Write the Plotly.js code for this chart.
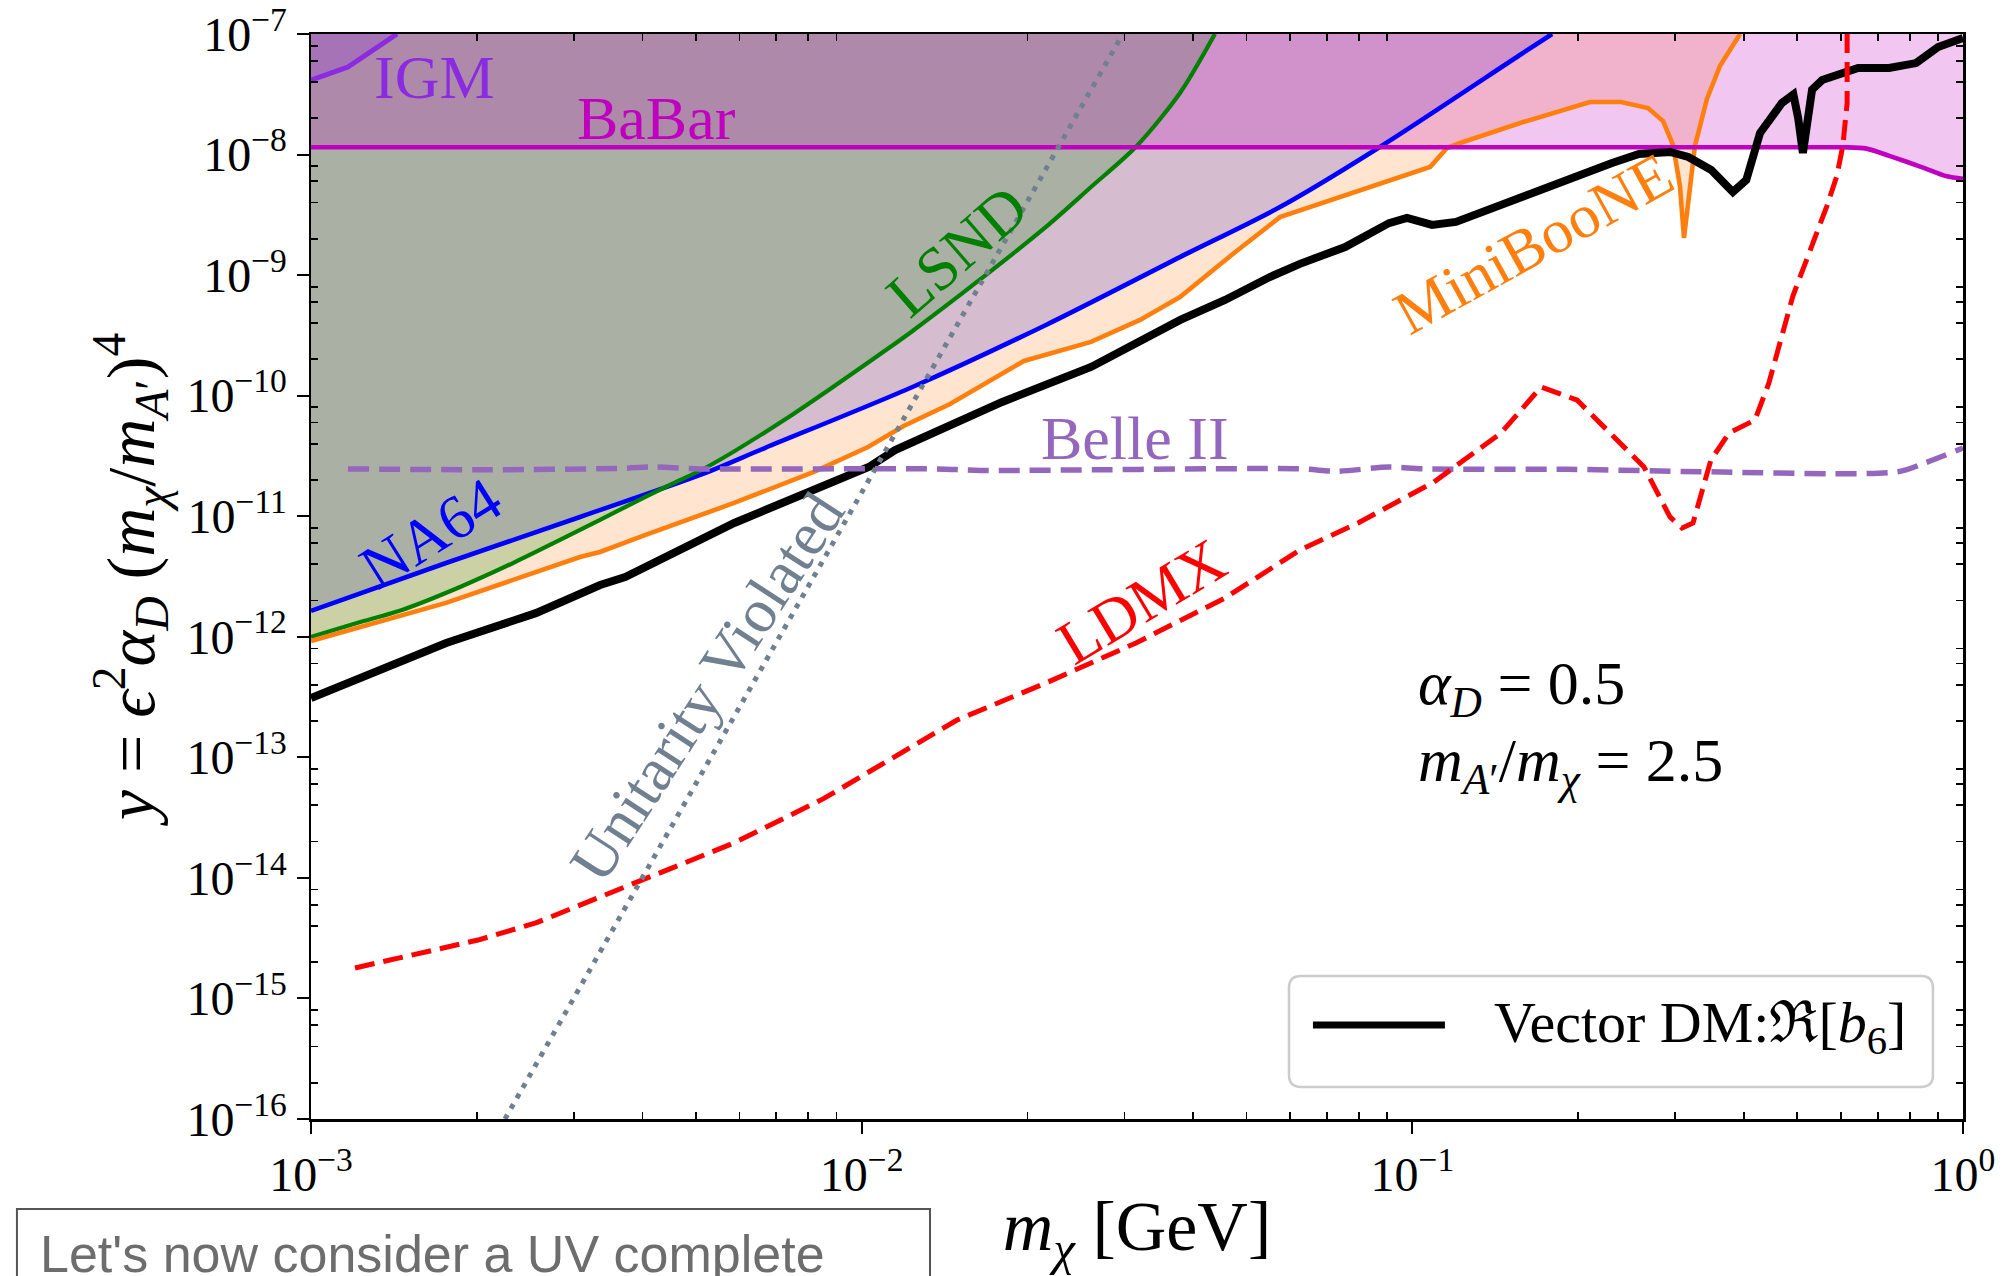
<!DOCTYPE html>
<html>
<head>
<meta charset="utf-8">
<script src="https://cdn.plot.ly/plotly-3.0.1.min.js"></script>
<style>
html,body{margin:0;padding:0;background:#fff;}
#chart{width:2005px;height:1276px;}
</style>
</head>
<body>
<div id="chart"></div>
<script>
// ---------------- data ----------------
const vectorDM_m = [1.00e-3, 1.212e-3, 1.76e-3, 2.56e-3, 3.35e-3, 3.72e-3, 5.09e-3, 5.87e-3, 1.03e-2, 1.15e-2, 1.80e-2, 2.61e-2, 3.79e-2, 4.57e-2, 5.51e-2, 6.25e-2, 7.55e-2, 9.07e-2, 9.78e-2, 0.1086, 0.120, 0.132, 0.159, 0.192, 0.2305, 0.258, 0.294, 0.317, 0.349, 0.382, 0.404, 0.428, 0.469, 0.492, 0.502, 0.512, 0.522, 0.532, 0.555, 0.645, 0.734, 0.822, 0.901, 1.0];
const vectorDM_y = [3.10e-13, 4.39e-13, 8.89e-13, 1.57e-12, 2.69e-12, 3.13e-12, 6.35e-12, 8.79e-12, 2.56e-11, 3.54e-11, 8.87e-11, 1.73e-10, 4.25e-10, 6.22e-10, 9.64e-10, 1.24e-9, 1.71e-9, 2.70e-9, 2.98e-9, 2.61e-9, 2.76e-9, 3.27e-9, 4.45e-9, 6.40e-9, 8.51e-9, 1.01e-8, 1.05e-8, 9.55e-9, 7.45e-9, 4.89e-9, 6.15e-9, 1.51e-8, 2.68e-8, 3.15e-8, 2.0e-8, 1.03e-8, 2.2e-8, 3.45e-8, 4.15e-8, 5.22e-8, 5.22e-8, 5.74e-8, 7.80e-8, 9.27e-8];

const lsnd_m = [1.00e-3, 1.212e-3, 1.463e-3, 1.865e-3, 2.327e-3, 3.080e-3, 3.718e-3, 4.486e-3, 5.24e-3, 7.47e-3, 1.107e-2, 1.237e-2, 1.637e-2, 2.161e-2, 2.609e-2, 3.149e-2, 3.785e-2, 4.38e-2];
const lsnd_y = [9.95e-13, 1.30e-12, 1.67e-12, 2.59e-12, 4.09e-12, 7.69e-12, 1.19e-11, 1.82e-11, 2.56e-11, 6.92e-11, 2.39e-10, 3.44e-10, 9.12e-10, 2.51e-9, 5.38e-9, 1.16e-8, 3.24e-8, 1.0e-7];

const na64_m = [1.00e-3, 1.759e-3, 3.08e-3, 5.09e-3, 6.67e-3, 1.237e-2, 2.161e-2, 3.785e-2, 5.75e-2, 8.73e-2, 0.1568, 0.1794];
const na64_y = [1.64e-12, 4.09e-12, 9.86e-12, 2.20e-11, 3.68e-11, 1.18e-10, 3.86e-10, 1.41e-9, 3.67e-9, 1.156e-8, 6.70e-8, 1.0e-7];

const miniboone_m = [1.00e-3, 1.759e-3, 3.080e-3, 3.348e-3, 4.04e-3, 5.087e-3, 5.865e-3, 8.19e-3, 1.027e-2, 1.192e-2, 1.447e-2, 1.971e-2, 2.609e-2, 3.202e-2, 3.785e-2, 4.745e-2, 5.75e-2, 0.1077, 0.1156, 0.1221, 0.159, 0.2102, 0.2393, 0.2679, 0.2853, 0.2975, 0.3062, 0.3114, 0.3193, 0.3260, 0.3428, 0.3619, 0.3936];
const miniboone_y = [9.23e-13, 1.91e-12, 4.59e-12, 5.05e-12, 6.98e-12, 1.023e-11, 1.288e-11, 2.33e-11, 3.75e-11, 5.60e-11, 8.53e-11, 1.94e-10, 2.79e-10, 4.25e-10, 6.58e-10, 1.525e-9, 3.03e-9, 7.88e-9, 1.133e-8, 1.247e-8, 1.862e-8, 2.73e-8, 2.73e-8, 2.43e-8, 1.897e-8, 1.20e-8, 5.48e-9, 2.03e-9, 5.48e-9, 1.178e-8, 2.89e-8, 5.43e-8, 1.0e-7];

const babar_m = [1.0e-3, 0.598, 0.668, 0.737, 0.846, 0.934, 1.0];
const babar_y = [1.15e-8, 1.15e-8, 1.12e-8, 9.7e-9, 7.8e-9, 6.6e-9, 6.3e-9];

const igm_m = [1.0e-3, 1.167e-3, 1.433e-3];
const igm_y = [4.15e-8, 5.32e-8, 1.0e-7];

const belle2_m = [1.167e-3, 2.12e-3, 3.72e-3, 4.16e-3, 5.09e-3, 1.36e-2, 1.64e-2, 6.25e-2, 7.27e-2, 9.07e-2, 0.105, 0.192, 0.336, 0.762, 0.853, 1.0];
const belle2_y = [2.47e-11, 2.43e-11, 2.50e-11, 2.56e-11, 2.47e-11, 2.47e-11, 2.40e-11, 2.47e-11, 2.36e-11, 2.56e-11, 2.47e-11, 2.45e-11, 2.34e-11, 2.34e-11, 2.77e-11, 3.68e-11];

const ldmx_m = [1.202e-3, 2.01e-3, 2.56e-3, 3.348e-3, 4.11e-3, 5.09e-3, 5.865e-3, 8.51e-3, 1.490e-2, 2.161e-2, 3.149e-2, 4.57e-2, 6.25e-2, 7.97e-2, 0.1094, 0.1449, 0.1713, 0.1991, 0.2393, 0.2635, 0.2937, 0.3088, 0.3234, 0.3485, 0.3760, 0.419, 0.444, 0.479, 0.491, 0.534, 0.566, 0.590, 0.605, 0.616, 0.616];
const ldmx_y = [1.79e-15, 3.05e-15, 4.23e-15, 6.95e-15, 9.98e-15, 1.49e-14, 1.95e-14, 4.52e-14, 2.04e-13, 4.14e-13, 8.89e-13, 2.10e-12, 5.25e-12, 8.79e-12, 1.92e-11, 4.90e-11, 1.18e-10, 9.20e-11, 4.05e-11, 2.56e-11, 9.86e-12, 7.98e-12, 8.79e-12, 2.93e-11, 4.90e-11, 6.28e-11, 1.27e-10, 4.50e-10, 6.71e-10, 1.85e-9, 3.74e-9, 6.64e-9, 1.18e-8, 2.68e-8, 1.0e-7];

const unitarity_m = [2.25e-3, 2.98e-2];
const unitarity_y = [1.0e-16, 1.0e-7];

// axis ranges and tick labels
const X_MIN = 1e-3, X_MAX = 1, Y_MIN = 1e-16, Y_TOP = 1e-7;
const xTickVals = [1e-3, 1e-2, 1e-1, 1];
const xTickText = ['10<sup>−3</sup>', '10<sup>−2</sup>', '10<sup>−1</sup>', '10<sup>0</sup>'];
const yTickVals = [1e-16, 1e-15, 1e-14, 1e-13, 1e-12, 1e-11, 1e-10, 1e-9, 1e-8, 1e-7];
const yTickText = ['10<sup>−16</sup>', '10<sup>−15</sup>', '10<sup>−14</sup>', '10<sup>−13</sup>', '10<sup>−12</sup>', '10<sup>−11</sup>', '10<sup>−10</sup>', '10<sup>−9</sup>', '10<sup>−8</sup>', '10<sup>−7</sup>'];

const xMinor = [];
for (let e = -3; e < 0; e++) for (let s = 2; s <= 9; s++) xMinor.push(s * Math.pow(10, e));
const yMinor = [];
for (let e = -16; e < -7; e++) for (const s of [2, 4, 6, 8]) yMinor.push(s * Math.pow(10, e));

// ---------------- traces ----------------
function region(mArr, yArr, color) {
  return {
    x: mArr.concat([mArr[mArr.length - 1], X_MIN]),
    y: yArr.concat([Y_TOP, Y_TOP]),
    mode: 'lines', fill: 'toself', fillcolor: color,
    line: {width: 0, color: 'rgba(0,0,0,0)'}, hoverinfo: 'skip', showlegend: false
  };
}
function curve(mArr, yArr, color, width, dash, name, shape) {
  return {
    x: mArr, y: yArr, mode: 'lines', name: name,
    line: {color: color, width: width, dash: dash || 'solid', shape: shape || 'linear', smoothing: 0.8},
    showlegend: false
  };
}

const traces = [
  region(na64_m, na64_y, 'rgba(0,0,255,0.2)'),
  region(miniboone_m, miniboone_y, 'rgba(255,127,14,0.2)'),
  region(lsnd_m, lsnd_y, 'rgba(0,128,0,0.2)'),
  region(babar_m, babar_y, 'rgba(191,0,191,0.22)'),
  region(igm_m, igm_y, 'rgba(138,43,226,0.22)'),
  curve(na64_m, na64_y, '#0000ff', 4.6, null, 'NA64', 'spline'),
  curve(lsnd_m, lsnd_y, '#008000', 4.2, null, 'LSND', 'spline'),
  curve(miniboone_m, miniboone_y, '#ff7f0e', 4.6, null, 'MiniBooNE'),
  curve(babar_m, babar_y, '#bf00bf', 4.6, null, 'BaBar', 'spline'),
  curve(vectorDM_m, vectorDM_y, '#000000', 8, null, 'Vector DM'),
  curve(igm_m, igm_y, '#8a2be2', 5, null, 'IGM'),
  curve(belle2_m, belle2_y, '#9467bd', 5.5, '21px,10px', 'Belle II', 'spline'),
  curve(ldmx_m, ldmx_y, '#ff0000', 5, '20px,9px', 'LDMX')
];
const uni = curve(unitarity_m, unitarity_y, '#708090', 5, '5px,7px', 'Unitarity');
uni.xaxis = 'x2'; uni.yaxis = 'y2';
traces.push(uni);

// ---------------- layout ----------------
const serif = 'Liberation Serif, DejaVu Serif, serif';
function ann(text, x, y, color, angle, size, xanchor) {
  return {text: text, x: x, y: y, xref: 'paper', yref: 'paper', showarrow: false,
          textangle: angle || 0, xanchor: xanchor || 'center', yanchor: 'middle',
          font: {family: serif, size: size || 62, color: color}};
}
function roundRect(x0, y0, x1, y1, rx, ry) {
  return 'M' + (x0 + rx) + ',' + y1 + ' L' + (x1 - rx) + ',' + y1 + ' Q' + x1 + ',' + y1 + ' ' + x1 + ',' + (y1 - ry) +
         ' L' + x1 + ',' + (y0 + ry) + ' Q' + x1 + ',' + y0 + ' ' + (x1 - rx) + ',' + y0 +
         ' L' + (x0 + rx) + ',' + y0 + ' Q' + x0 + ',' + y0 + ' ' + x0 + ',' + (y0 + ry) +
         ' L' + x0 + ',' + (y1 - ry) + ' Q' + x0 + ',' + y1 + ' ' + (x0 + rx) + ',' + y1 + ' Z';
}

const minorStyle = {ticks: 'inside', ticklen: 7, tickwidth: 1.8, tickcolor: '#000', showgrid: false};

const layout = {
  width: 2005, height: 1276,
  margin: {l: 311, r: 42, t: 34, b: 157, pad: 0},
  paper_bgcolor: '#ffffff', plot_bgcolor: '#ffffff',
  showlegend: false,
  font: {family: serif, color: '#000'},
  xaxis: {
    type: 'log', range: [Math.log10(X_MIN), Math.log10(X_MAX)], autorange: false,
    showline: true, linecolor: '#000', linewidth: 2.5, mirror: true,
    ticks: 'outside', ticklen: 12, tickwidth: 2, tickcolor: '#000',
    tickmode: 'array', tickvals: xTickVals, ticktext: xTickText,
    tickfont: {family: serif, size: 48, color: '#000'},
    showgrid: false, zeroline: false, automargin: false,
    minor: Object.assign({tickvals: xMinor}, minorStyle),
    title: {text: '<i>m</i><sub><i>χ</i></sub> [GeV]', font: {family: serif, size: 70, color: '#000'}, standoff: 12}
  },
  yaxis: {
    type: 'log', range: [Math.log10(Y_MIN), Math.log10(Y_TOP)], autorange: false,
    showline: true, linecolor: '#000', linewidth: 2.5, mirror: true,
    ticks: 'outside', ticklen: 12, tickwidth: 2, tickcolor: '#000',
    tickmode: 'array', tickvals: yTickVals, ticktext: yTickText,
    tickfont: {family: serif, size: 48, color: '#000'},
    showgrid: false, zeroline: false, automargin: false,
    minor: Object.assign({tickvals: yMinor}, minorStyle),
    title: {text: '<i>y</i> = <i>ϵ</i><sup>2</sup><i>α</i><sub><i>D</i></sub> (<i>m</i><sub><i>χ</i></sub>/<i>m</i><sub><i>A</i>′</sub>)<sup>4</sup>',
            font: {family: serif, size: 68, color: '#000'}, standoff: 10}
  },
  xaxis2: {
    type: 'log', range: [Math.log10(X_MIN), Math.log10(X_MAX)], autorange: false,
    overlaying: 'x', side: 'top', anchor: 'y2', showline: false, ticks: '', showticklabels: false,
    showgrid: false, zeroline: false, minor: Object.assign({tickvals: xMinor}, minorStyle)
  },
  yaxis2: {
    type: 'log', range: [Math.log10(Y_MIN), Math.log10(Y_TOP)], autorange: false,
    overlaying: 'y', side: 'right', anchor: 'x2', showline: false, ticks: '', showticklabels: false,
    showgrid: false, zeroline: false, minor: Object.assign({tickvals: yMinor}, minorStyle)
  },
  annotations: [
    ann('IGM', 0.0745, 0.9607, '#8a2be2'),
    ann('BaBar', 0.2091, 0.923, '#bf00bf'),
    ann('LSND', 0.391, 0.800, '#008000', -41),
    ann('NA64', 0.0726, 0.540, '#0000ff', -32),
    ann('Belle II', 0.4988, 0.6276, '#9467bd'),
    ann('LDMX', 0.503, 0.4774, '#ff0000', -31),
    ann('MiniBooNE', 0.7403, 0.8074, '#ff7f0e', -29),
    ann('Unitarity Violated', 0.2397, 0.398, '#708090', -57),
    ann('<i>α</i><sub><i>D</i></sub> = 0.5', 0.6689, 0.398, '#000', 0, 62, 'left'),
    ann('<i>m</i><sub><i>A</i>′</sub>/<i>m</i><sub><i>χ</i></sub> = 2.5', 0.6689, 0.327, '#000', 0, 62, 'left'),
    ann('Vector DM:ℜ[<i>b</i><sub>6</sub>]', 0.7149, 0.0853, '#000', 0, 58, 'left'),
    {text: "Let's now consider a UV complete", x: -0.1653, y: -0.124, xref: 'paper', yref: 'paper',
     showarrow: false, xanchor: 'left', yanchor: 'middle',
     font: {family: 'Liberation Sans, Arial, sans-serif', size: 52, color: '#6d6d6d'}}
  ],
  shapes: [
    {type: 'path', xref: 'paper', yref: 'paper', layer: 'above',
     path: roundRect(0.5920, 0.0295, 0.9818, 0.1318, 0.0073, 0.011),
     line: {color: '#cccccc', width: 2.5}, fillcolor: 'rgba(255,255,255,0.8)'},
    {type: 'line', xref: 'paper', yref: 'paper', layer: 'above',
     x0: 0.6065, x1: 0.6864, y0: 0.0866, y1: 0.0866, line: {color: '#000', width: 7}},
    {type: 'rect', xref: 'paper', yref: 'paper', layer: 'above',
     x0: -0.178, x1: 0.3747, y0: -0.20, y1: -0.0829,
     line: {color: '#555555', width: 2}, fillcolor: 'rgba(0,0,0,0)'}
  ]
};

Plotly.newPlot('chart', traces, layout, {staticPlot: true, displayModeBar: false});
</script>
</body>
</html>
